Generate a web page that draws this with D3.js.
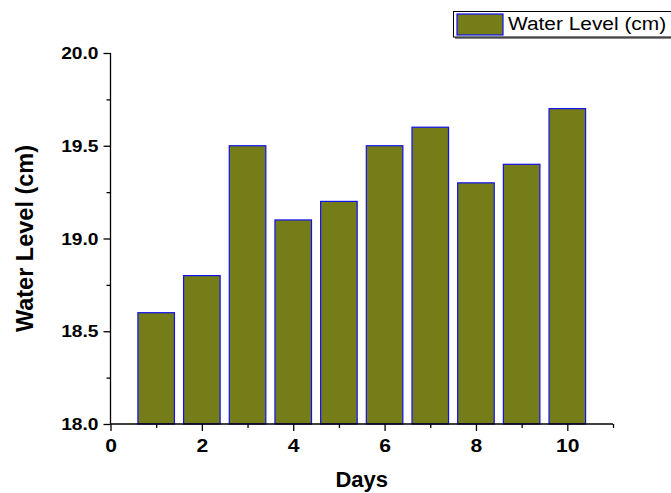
<!DOCTYPE html>
<html><head><meta charset="utf-8">
<script src="https://cdn.jsdelivr.net/npm/d3@7"></script>
<style>body{margin:0;background:#fff}svg{display:block}text{font-family:"Liberation Sans",Arial,sans-serif}</style>
</head><body>
<svg id="c" width="671" height="493"></svg>
<script>
const days = [1,2,3,4,5,6,7,8,9,10];
const waterLevel = [18.6,18.8,19.5,19.1,19.2,19.5,19.6,19.3,19.4,19.7];
const xTickValues = [0,2,4,6,8,10];
const yTickValues = [18.0,18.5,19.0,19.5,20.0];
const seriesName = "Water Level (cm)";
const xTitle = "Days";
const yTitle = "Water Level (cm)";

const svg = d3.select("#c");
const x = d3.scaleLinear().domain([0,11]).range([110.5,613]);
const y = d3.scaleLinear().domain([18,20]).range([424,53]);
const fill = "#757D18", edge = "#1010F0";
const bw = x(0.8)-x(0);

svg.append("g").selectAll("rect").data(days).join("rect")
  .attr("x", d=>x(d)-bw/2).attr("width", bw)
  .attr("y", (d,i)=>y(waterLevel[i])).attr("height",(d,i)=>y(18)-y(waterLevel[i]))
  .attr("fill", fill).attr("stroke", edge).attr("stroke-width",1.2);

// x axis
const gx = svg.append("g").attr("transform",`translate(0,${y(18)})`);
gx.call(d3.axisBottom(x).tickValues(d3.range(1,12,2)).tickSize(4).tickFormat(""));
gx.call(g=>g.select(".domain").remove());
const gx2 = svg.append("g").attr("transform",`translate(0,${y(18)})`);
gx2.call(d3.axisBottom(x).tickValues(xTickValues).tickSize(7).tickSizeOuter(0).tickFormat(d3.format("d")));
gx2.selectAll(".tick text").attr("font-size",18.5).attr("font-weight","bold").attr("fill","#000")
  .attr("y",0).attr("dy",0).attr("transform","translate(0,28) scale(1.14,1)");
gx2.select(".domain").attr("d",`M${x(0)},0H${x(11)}`);

// y axis
const gy = svg.append("g").attr("transform",`translate(${x(0)},0)`);
gy.call(d3.axisLeft(y).tickValues([18.25,18.75,19.25,19.75]).tickSize(4).tickFormat(""));
gy.call(g=>g.select(".domain").remove());
const gy2 = svg.append("g").attr("transform",`translate(${x(0)},0)`);
gy2.call(d3.axisLeft(y).tickValues(yTickValues).tickSize(7).tickSizeOuter(0).tickFormat(d3.format(".1f")));
gy2.selectAll(".tick text").attr("font-size",16).attr("font-weight","bold").attr("fill","#000")
  .attr("x",0).attr("dy",0).attr("transform","translate(-12,5.5) scale(1.2,1)");
gy2.select(".domain").attr("d",`M0,${y(20)}V${y(18)}`);

svg.selectAll(".tick line").attr("stroke","#000").attr("stroke-width",1.3);
svg.selectAll(".domain").attr("stroke","#000").attr("stroke-width",1.3);

// titles
svg.append("text").attr("x",(x(0)+x(11))/2).attr("y",487).attr("text-anchor","middle")
  .attr("font-size",22).attr("font-weight","bold").text(xTitle);
svg.append("text").attr("transform",`translate(33,${(y(18)+y(20))/2}) rotate(-90)`).attr("text-anchor","middle")
  .attr("font-size",23.5).attr("font-weight","bold").text(yTitle);

// legend
const lg = svg.append("g");
lg.append("rect").attr("x",455).attr("y",13).attr("width",240).attr("height",26).attr("fill","#888");
lg.append("rect").attr("x",453.5).attr("y",11.5).attr("width",240).attr("height",25.5).attr("fill","#fff").attr("stroke","#000").attr("stroke-width",1);
lg.append("rect").attr("x",457).attr("y",14).attr("width",46).attr("height",21).attr("fill",fill).attr("stroke",edge).attr("stroke-width",1.2);
lg.append("text").attr("transform","translate(508,29.5) scale(1.16,1)").attr("font-size",18).text(seriesName);
</script>
</body></html>
